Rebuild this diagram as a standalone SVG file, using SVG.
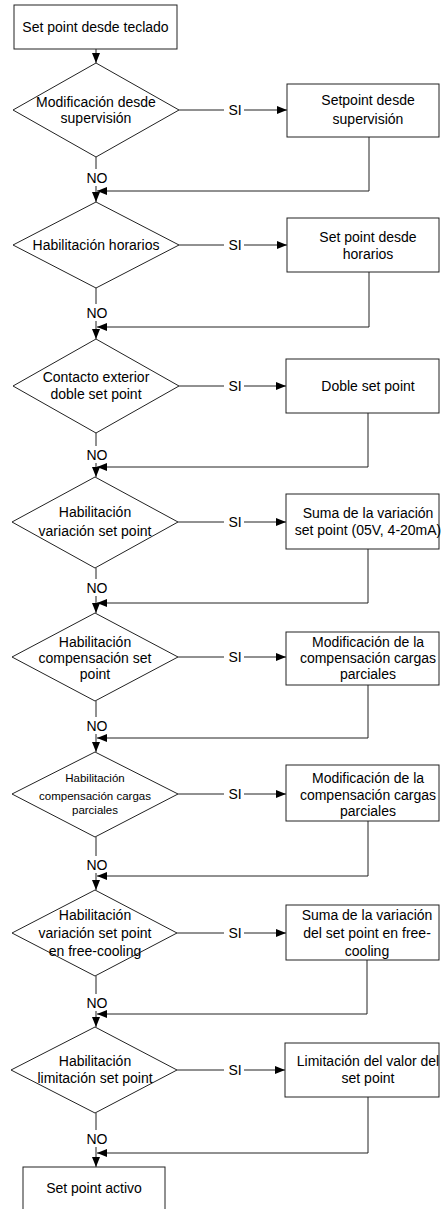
<svg xmlns="http://www.w3.org/2000/svg" width="442" height="1209" viewBox="0 0 442 1209">
<style>
.n{fill:#fff;stroke:#222;stroke-width:1}
.t{font-family:"Liberation Sans",Arial,sans-serif;font-size:14px;fill:#000;text-anchor:middle}
.s{font-size:11.5px}
.c{fill:none;stroke:#222;stroke-width:1}
.a{marker-end:url(#ah)}
</style>
<defs>
<marker id="ah" markerUnits="userSpaceOnUse" markerWidth="10" markerHeight="8" refX="10" refY="4" orient="auto">
<path d="M0,0 L10,4 L0,8 z" fill="#000"/>
</marker>
</defs>
<rect width="442" height="1209" fill="#fff"/>
<g id="connectors">
<line class="c a" x1="96" y1="49" x2="96" y2="63"/>
<!-- SI lines -->
<line class="c" x1="179" y1="110" x2="224" y2="110"/><line class="c a" x1="244" y1="110" x2="287" y2="110"/>
<line class="c" x1="179" y1="245" x2="224" y2="245"/><line class="c a" x1="244" y1="245" x2="287" y2="245"/>
<line class="c" x1="179" y1="386" x2="224" y2="386"/><line class="c a" x1="244" y1="386" x2="286" y2="386"/>
<line class="c" x1="178" y1="522" x2="224" y2="522"/><line class="c a" x1="244" y1="522" x2="286" y2="522"/>
<line class="c" x1="178" y1="657" x2="224" y2="657"/><line class="c a" x1="244" y1="657" x2="286" y2="657"/>
<line class="c" x1="178" y1="794" x2="224" y2="794"/><line class="c a" x1="244" y1="794" x2="286" y2="794"/>
<line class="c" x1="177" y1="933" x2="224" y2="933"/><line class="c a" x1="244" y1="933" x2="286" y2="933"/>
<line class="c" x1="177" y1="1070" x2="224" y2="1070"/><line class="c a" x1="244" y1="1070" x2="285" y2="1070"/>
<!-- returns -->
<polyline class="c a" points="369,137 369,191 97,191"/>
<polyline class="c a" points="369,272 369,327 97,327"/>
<polyline class="c a" points="368,413 368,467 97,467"/>
<polyline class="c a" points="368,549 368,603 97,603"/>
<polyline class="c a" points="368,685 368,738 97,738"/>
<polyline class="c a" points="368,821 368,876 97,876"/>
<polyline class="c a" points="367,960 367,1014 97,1014"/>
<polyline class="c a" points="368,1097 368,1153 97,1153"/>
<!-- NO lines -->
<line class="c" x1="96" y1="157" x2="96" y2="169"/><line class="c a" x1="96" y1="186" x2="96" y2="202"/>
<line class="c" x1="96" y1="288" x2="96" y2="304"/><line class="c a" x1="96" y1="321" x2="96" y2="339"/>
<line class="c" x1="96" y1="433" x2="96" y2="446"/><line class="c a" x1="96" y1="463" x2="96" y2="477"/>
<line class="c" x1="96" y1="568" x2="96" y2="579"/><line class="c a" x1="96" y1="596" x2="96" y2="613"/>
<line class="c" x1="96" y1="701" x2="96" y2="717"/><line class="c a" x1="96" y1="734" x2="96" y2="752"/>
<line class="c" x1="96" y1="837" x2="96" y2="856"/><line class="c a" x1="96" y1="873" x2="96" y2="890"/>
<line class="c" x1="96" y1="976" x2="96" y2="994"/><line class="c a" x1="96" y1="1011" x2="96" y2="1027"/>
<line class="c" x1="96" y1="1113" x2="96" y2="1130"/><line class="c a" x1="96" y1="1147" x2="96" y2="1167"/>
<!-- labels -->
<g class="t">
<text x="235" y="115">SI</text><text x="235" y="250">SI</text><text x="235" y="391">SI</text><text x="235" y="527">SI</text>
<text x="235" y="662">SI</text><text x="235" y="799">SI</text><text x="235" y="938">SI</text><text x="235" y="1075">SI</text>
<text x="97" y="183">NO</text><text x="97" y="318">NO</text><text x="97" y="460">NO</text><text x="97" y="593">NO</text>
<text x="97" y="731">NO</text><text x="97" y="870">NO</text><text x="97" y="1008">NO</text><text x="97" y="1144">NO</text>
</g>
</g>
<g id="start"><rect class="n" x="14" y="5" width="163" height="44"/><text class="t" x="95.5" y="32">Set point desde teclado</text></g>
<g id="d1"><polygon class="n" points="96,63 179,110 96,157 13,110"/><text class="t" x="96" y="107">Modificación desde</text><text class="t" x="96" y="123">supervisión</text></g>
<g id="b1"><rect class="n" x="287" y="84" width="152" height="53"/><text class="t" x="368" y="105">Setpoint desde</text><text class="t" x="368" y="124">supervisión</text></g>
<g id="d2"><polygon class="n" points="96,202 179,245 96,288 13,245"/><text class="t" x="96" y="250">Habilitación horarios</text></g>
<g id="b2"><rect class="n" x="287" y="218" width="152" height="54"/><text class="t" x="368" y="241.5">Set point desde</text><text class="t" x="368" y="258.5">horarios</text></g>
<g id="d3"><polygon class="n" points="96,339 179,386 96,433 13,386"/><text class="t" x="96" y="382">Contacto exterior</text><text class="t" x="96" y="399">doble set point</text></g>
<g id="b3"><rect class="n" x="286" y="359" width="153" height="54"/><text class="t" x="368" y="391">Doble set point</text></g>
<g id="d4"><polygon class="n" points="95,477 178,522 95,568 12,522"/><text class="t" x="95" y="517">Habilitación</text><text class="t" x="95" y="535.5">variación set point</text></g>
<g id="b4"><rect class="n" x="286" y="494" width="153" height="55"/><text class="t" x="368" y="517.5">Suma de la variación</text><text class="t" x="368" y="535">set point (05V, 4-20mA)</text></g>
<g id="d5"><polygon class="n" points="95,613 178,657 95,701 12,657"/><text class="t" x="95" y="647">Habilitación</text><text class="t" x="95" y="663">compensación set</text><text class="t" x="95" y="679">point</text></g>
<g id="b5"><rect class="n" x="286" y="632" width="153" height="53"/><text class="t" x="368" y="647">Modificación de la</text><text class="t" x="368" y="663">compensación cargas</text><text class="t" x="368" y="679">parciales</text></g>
<g id="d6"><polygon class="n" points="95,752 178,794 95,837 12,794"/><text class="t s" x="95" y="782">Habilitación</text><text class="t s" x="95" y="800">compensación cargas</text><text class="t s" x="95" y="814">parciales</text></g>
<g id="b6"><rect class="n" x="286" y="765" width="153" height="56"/><text class="t" x="368" y="783">Modificación de la</text><text class="t" x="368" y="800">compensación cargas</text><text class="t" x="368" y="816">parciales</text></g>
<g id="d7"><polygon class="n" points="95,890 177,933 95,976 12,933"/><text class="t" x="95" y="920">Habilitación</text><text class="t" x="95" y="938">variación set point</text><text class="t" x="95" y="956">en free-cooling</text></g>
<g id="b7"><rect class="n" x="286" y="905" width="153" height="55"/><text class="t" x="367" y="920">Suma de la variación</text><text class="t" x="367" y="938">del set point en free-</text><text class="t" x="367" y="956">cooling</text></g>
<g id="d8"><polygon class="n" points="95,1027 177,1070 95,1113 11,1070"/><text class="t" x="95" y="1065.5">Habilitación</text><text class="t" x="95" y="1083">limitación set point</text></g>
<g id="b8"><rect class="n" x="285" y="1043" width="154" height="54"/><text class="t" x="368" y="1066">Limitación del valor del</text><text class="t" x="368" y="1083">set point</text></g>
<g id="end"><rect class="n" x="23" y="1167" width="142" height="60"/><text class="t" x="94" y="1193">Set point activo</text></g>
</svg>
